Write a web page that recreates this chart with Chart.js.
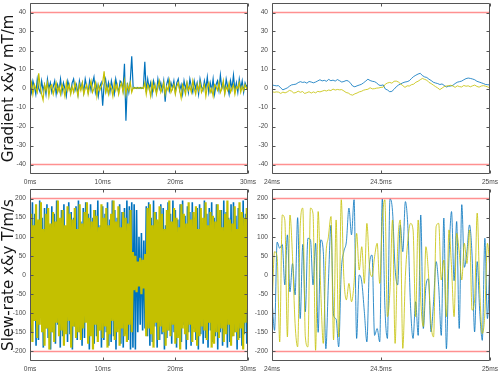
<!DOCTYPE html>
<html>
<head>
<meta charset="utf-8">
<script src="https://cdn.jsdelivr.net/npm/chart.js@4.4.0/dist/chart.umd.min.js"></script>
<style>
  html, body { margin: 0; padding: 0; background: #fff; }
  #wrap { position: relative; width: 499px; height: 373px; overflow: hidden; }
  #wrap canvas { position: absolute; left: 0; top: 0; }
</style>
</head>
<body>
<div id="wrap">
  <canvas id="grad-full" width="499" height="373"></canvas>
  <canvas id="grad-zoom" width="499" height="373"></canvas>
  <canvas id="slew-full" width="499" height="373"></canvas>
  <canvas id="slew-zoom" width="499" height="373"></canvas>
</div>
<script>
// ── Data ──────────────────────────────────────────────────

// gradient, whole readout 0–30 ms (one sample every 0.2 ms)
const gradFullStep = 0.2;
const gradFullBlue = [
  3, -2, 4, 1, -3, 5, 0, -2, 4, -1,
  2, -3, 5, 0, 3, -2, 1, 4, -3, 2,
  -1, 5, -2, 3, 0, -4, 4, 1, -2, 3,
  5, -1, 2, -3, 4, 0, 3, -2, 5, 1,
  -2, 4, -1, 3, 6, -2, 2, -4, 1, 3,
  -9, 2, 5, -1, 3, -2, 4, 0, -3, 5,
  1, -2, 4, 3, -1, 13, -17, 3, -2, 4, 17,
  0, 0.5, 0, 0.5, 0, 0.5, 0, 0.5,
  14,
  -2, 5, 0, 3, -3, 4, 1, -2, 5, 0,
  3, -1, 4, -7, 2, 5, -1, 3, 0, 4,
  -2, 3, 5, -1, 2, -3, 4, 0, 3, -2,
  5, 1, -2, 4, 0, 3, -3, 5, 1, -1,
  4, 0, 6, -2, 3, -1, 5, -3, 2, 4,
  -1, 7, 0, 3, -2, 5, 1, -3, 4, 0,
  7, -1, 3, -2, 5, 0, 4, -2, 3, 1, 2
];
const gradFullYellow = [
  -1, 3, -3, 2, 0, -2, 8, 1, -3, -6,
  2, -1, 3, -4, 1, 2, -3, 0, 3, -2,
  1, -3, 2, 0, -4, 3, -1, 2, -3, 1,
  -2, 3, 0, -4, 2, -1, 3, -3, 0, 2,
  -3, 1, 4, -2, 0, 3, -4, 2, -1, 1,
  3, 9, -2, 1, -3, 2, 0, -4, 3, -1,
  2, -3, 1, 3, -2, 4, -3, 2, -1, 3, -2,
  0.5, 0, 0.5, 0, 0.5, 0, 0.5, 0,
  3,
  -3, 2, 0, -4, 3, -1, 2, -3, 1, 4,
  -2, 0, 3, -3, 1, -1, 4, -2, 0, 2,
  -3, 1, 3, -1, -5, 2, 0, -3, 3, -1,
  1, -2, 4, 0, -3, 2, -1, 3, -2, 0,
  2, -4, 1, 3, -2, 0, -4, 2, 1, -1,
  3, -2, 0, 4, -3, 1, -1, 3, -2, 0,
  2, -3, 1, 0, 3, -2, 1, -1, 2, 0, 1
];

// gradient, close-up 24–25 ms (one sample every 0.01 ms)
const gradZoomStart = 24;
const gradZoomStep = 0.01;
const gradZoomBlue = [
  1.9, 1.6, 1.4, 1.5, 0.3, -0.7, -0.2, 0.3, 1.2, 1.9,
  2.1, 2.3, 3.1, 3.6, 3.2, 3.4, 2.8, 3.7, 3.4, 3.0,
  3.4, 4.0, 4.6, 4.0, 4.3, 3.8, 4.8, 4.1, 4.4, 3.9,
  4.7, 4.1, 3.4, 3.7, 4.2, 4.0, 2.8, 1.3, 0.9, 1.4,
  1.8, 2.2, 3.0, 3.9, 4.9, 4.2, 3.8, 3.6, 3.0, 1.8,
  1.6, 1.9, -0.3, -0.8, -1.7, -1.5, -0.4, 0.9, 1.8, 2.4,
  3.0, 3.4, 3.6, 4.1, 5.3, 6.3, 7.0, 7.6, 8.0, 6.8,
  6.1, 5.8, 4.9, 4.2, 3.3, 2.9, 2.6, 2.1, 2.4, 1.6,
  0.8, 1.2, 1.3, 1.7, 2.6, 3.3, 3.6, 3.9, 4.6, 5.2,
  5.5, 5.3, 5.0, 4.6, 3.8, 3.4, 3.0, 2.6, 2.1, 2.0, 1.9
];
const gradZoomYellow = [
  -1.6, -2.0, -1.8, -1.9, -2.6, -1.9, -2.3, -1.8, -1.0, -1.4,
  -2.4, -2.1, -1.4, -2.0, -1.6, -2.6, -2.2, -1.7, -2.4, -1.8,
  -2.3, -1.5, -1.8, -1.4, -1.0, -1.3, -0.8, -1.1, -0.3, -0.8,
  -0.5, -0.7, -0.6, -1.3, -2.1, -2.4, -3.2, -3.5, -2.8, -2.4,
  -1.8, -1.5, -0.9, -0.6, -0.4, 0.4, -0.2, -0.1, 0.2, 0.3,
  0.6, 0.7, 2.3, 2.9, 3.2, 2.8, 3.8, 3.9, 3.4, 2.4,
  1.5, 0.6, 1.4, 1.3, 2.0, 2.3, 3.3, 3.8, 4.6, 5.3,
  4.8, 4.4, 3.2, 2.6, 1.8, 1.0, 0.3, -0.6, 0.2, 1.0,
  1.3, 1.5, 1.7, 1.3, 0.6, 1.4, 1.0, 0.8, 1.6, 1.2,
  1.4, 0.9, 1.4, 1.8, 1.1, 0.7, 1.3, 1.5, 1.2, 0.8, 0.3
];

// slew rate, whole readout 0–30 ms (one sample every 1/6 ms)
const slewFullStep = 1 / 6;
const slewFullBlue = [
  170, -150, 190, -120, 160, -185, 140, -170, 195, -110, 150, -190, 175, -140, 185, -165, 130, -195, 180, -150,
  160, -180, 195, -130, 145, -190, 170, -160, 185, -145, 120, -175, 190, -155, 165, -195, 150, -135, 180, -170,
  195, -150, 140, -185, 175, -165, 190, -120, 160, -195, 185, -140, 150, -180, 170, -160, 195, -145, 130, -190,
  180, -170, 160, -150, 190, -185, 145, -175, 195, -160, 170, -195, 150, -140, 185, -180, 165, -190, 175, -155,
  195, -170, 180, -195, 190, -190, 185, -195, 170, -150, 100, -130, 110, -145, 90, -140, 180, -160, 190, -185,
  150, -175, 195, -135, 165, -190, 140, -170, 185, -155, 175, -195, 130, -165, 190, -145, 160, -180, 195, -150,
  170, -190, 145, -160, 185, -175, 195, -130, 155, -195, 180, -150, 165, -185, 190, -140, 150, -170, 175, -195,
  185, -155, 130, -180, 195, -165, 160, -190, 175, -145, 190, -175, 150, -160, 185, -195, 140, -150, 170, -185,
  195, -140, 165, -190, 150, -175, 185, -160, 190, -150, 155, -195, 175, -165, 140, -185, 195, -155, 160, -180, 100
];
const slewFullYellow = [
  -140, 160, -175, 130, -120, 185, -165, 145, -130, 190, -150, 120, -185, 160, -140, 175, -195, 135, -150, 165,
  -175, 140, -125, 195, -160, 150, -145, 170, -185, 130, -155, 180, -120, 160, -190, 145, -135, 175, -165, 120,
  -150, 185, -170, 135, -140, 165, -125, 190, -180, 150, -160, 140, -195, 170, -130, 155, -175, 125, -145, 185,
  -165, 150, -135, 175, -190, 130, -155, 160, -120, 195, -170, 140, -150, 180, -185, 125, -140, 165, -160, 150,
  -175, 135, -130, 170, -150, 60, -40, 50, -45, 35, -30, 45, -50, 40, -35, 55, -160, 175, -140, 185,
  -155, 130, -190, 165, -125, 145, -170, 180, -135, 160, -150, 120, -185, 170, -145, 195, -160, 140, -130, 175,
  -180, 150, -165, 125, -195, 185, -140, 160, -155, 135, -170, 190, -130, 145, -175, 165, -150, 180, -185, 120,
  -160, 175, -135, 150, -145, 190, -170, 130, -125, 165, -190, 155, -180, 140, -150, 185, -165, 170, -140, 125,
  -175, 160, -155, 195, -130, 145, -185, 135, -160, 180, -150, 120, -170, 190, -140, 165, -195, 150, -125, 175, -100
];

// slew rate, close-up 24–25 ms (samples spread evenly over the window)
const slewZoomStart = 24;
const slewZoomBlue = [
  -65, -145, 86, 70, 80, -26, 105, -44, 30, -52,
  150, -114, 80, -96, 96, 92, -26, 83, -150, 92,
  61, -193, -18, 130, -105, -115, -188, 9, 61, 87,
  175, 105, 197, -166, 0, -18, -96, -175, 26, 52,
  -158, -140, -175, 199, -79, -166, 199, 166, 17, -26,
  131, 61, 192, 122, -79, -166, -70, -158, 157, -140,
  -30, -10, -149, -70, 35, -30, -158, 149, -193, 44,
  166, -15, 140, -140, 184, 20, 61, 131, 52, -149,
  35, -96, -171, 96, -114, 52
];
const slewZoomYellow = [
  -87, 61, 48, -175, 157, 144, -162, 157, 48, -127,
  -188, 127, 175, -162, -188, 175, 160, -197, 166, -39,
  -179, 48, 100, 153, -170, 144, -162, 197, -4, -65,
  -22, -70, -20, 109, 13, 74, -22, 135, 22, -4,
  48, 83, -22, 144, 197, -109, -39, 144, -179, 74,
  144, -192, -4, 92, 135, 118, -109, 144, -65, -135,
  74, 4, -127, -162, 127, 135, -13, 39, -109, 118,
  20, -109, 109, 60, -13, 83, 30, 118, -92, -65,
  162, -39, -153, -100, 83, 13
];

// axes
const gradTicks = [-40, -30, -20, -10, 0, 10, 20, 30, 40];
const slewTicks = [-200, -150, -100, -50, 0, 50, 100, 150, 200];
const fullTimeTicks = [0, 10, 20, 30];
const zoomTimeTicks = [24, 24.5, 25];
const gradLimits = [40, -40];
const slewLimits = [200, -200];

// ── Style ─────────────────────────────────────────────────

const W = 499, H = 373;
const axisW = 30, axisH = 12;
const colors = {
  blue   : '#0072bd',
  yellow : '#c4c000',
  limit  : 'rgba(255, 70, 70, 0.6)',
  frame  : '#555555',
  tick   : '#4a4a4a',
  title  : '#151515',
};
const tickFont = { family: 'Liberation Sans', size: 6.6 };

// box round the plot with inward ticks, like the original
const framePlugin = {
  id: 'frame',
  afterDatasetsDraw( chart ) {
    const { ctx, chartArea: a, scales: { x, y } } = chart;
    const L = Math.round( a.left ) + 0.5, R = Math.round( a.right ) - 0.5;
    const T = Math.round( a.top ) + 0.5, B = Math.round( a.bottom ) - 0.5;
    const len = 3;
    ctx.save();
    ctx.strokeStyle = colors.frame;
    ctx.lineWidth = 1;
    ctx.beginPath();
    ctx.rect( L, T, R - L, B - T );
    x.ticks.forEach( ( t ) => {
      const px = Math.round( x.getPixelForValue( t.value ) ) + 0.5;
      ctx.moveTo( px, T ); ctx.lineTo( px, T + len );
      ctx.moveTo( px, B ); ctx.lineTo( px, B - len );
    } );
    y.ticks.forEach( ( t ) => {
      const py = Math.round( y.getPixelForValue( t.value ) ) + 0.5;
      ctx.moveTo( L, py ); ctx.lineTo( L + len, py );
      ctx.moveTo( R, py ); ctx.lineTo( R - len, py );
    } );
    ctx.stroke();
    ctx.restore();
  },
};

function toPoints( times, values ) {
  return values.map( ( v, i ) => ( { x: times[ i ], y: v } ) );
}

function panel( id, area, cfg ) {
  const [ xMin, xMax ] = [ cfg.xTicks[ 0 ], cfg.xTicks[ cfg.xTicks.length - 1 ] ];
  const limitSets = cfg.limits.map( ( lim ) => ( {
    data        : [ { x: xMin, y: lim }, { x: xMax, y: lim } ],
    borderColor : colors.limit,
    borderWidth : 1.5,
  } ) );
  const mode = cfg.smooth ? 'monotone' : 'default';

  new Chart( document.getElementById( id ), {
    type: 'line',
    data: {
      datasets: [
        ...limitSets,
        {
          data        : toPoints( cfg.times, cfg.yellow ),
          borderColor : colors.yellow,
          borderWidth : cfg.width[ 0 ],
          cubicInterpolationMode: mode,
        },
        {
          data        : toPoints( cfg.times, cfg.blue ),
          borderColor : colors.blue,
          borderWidth : cfg.width[ 1 ],
          cubicInterpolationMode: mode,
        },
      ],
    },
    options: {
      responsive : false,
      animation  : false,
      events     : [],
      layout: {
        padding: {
          left   : area.left - axisW,
          right  : W - area.right,
          top    : area.top,
          bottom : H - area.bottom - axisH,
        },
      },
      elements: { point: { radius: 0 } },
      plugins: {
        legend  : { display: false },
        tooltip : { enabled: false },
      },
      scales: {
        x: {
          type   : 'linear',
          min    : xMin,
          max    : xMax,
          grid   : { display: false, drawTicks: false },
          border : { display: false },
          ticks: {
            padding     : 4,
            color       : colors.tick,
            font        : tickFont,
            maxRotation : 0,
            autoSkip    : false,
            callback    : ( v ) => v + 'ms',
          },
          afterBuildTicks: ( s ) => { s.ticks = cfg.xTicks.map( ( v ) => ( { value: v } ) ); },
          afterFit: ( s ) => { s.height = axisH; s.paddingLeft = 0; s.paddingRight = 0; },
        },
        y: {
          type   : 'linear',
          min    : cfg.yRange[ 0 ],
          max    : cfg.yRange[ 1 ],
          grid   : { display: false, drawTicks: false },
          border : { display: false },
          ticks: {
            padding  : 4,
            color    : colors.tick,
            font     : tickFont,
            autoSkip : false,
            callback : ( v ) => String( v ),
          },
          title: {
            display : !! cfg.title,
            text    : cfg.title || '',
            color   : colors.title,
            font    : { family: 'DejaVu Sans', size: 15 },
            padding : 0,
          },
          afterBuildTicks: ( s ) => { s.ticks = cfg.yTicks.map( ( v ) => ( { value: v } ) ); },
          afterFit: ( s ) => { s.width = axisW; s.paddingTop = 0; s.paddingBottom = 0; },
        },
      },
    },
    plugins: [ framePlugin ],
  } );
}

// ── Panels ────────────────────────────────────────────────

const gradFullTime = gradFullBlue.map( ( _, i ) => i * gradFullStep );
const gradZoomTime = gradZoomBlue.map( ( _, i ) => gradZoomStart + i * gradZoomStep );
const slewFullTime = slewFullBlue.map( ( _, i ) => i * slewFullStep );
const slewZoomTime = slewZoomBlue.map( ( _, i ) => slewZoomStart + i / ( slewZoomBlue.length - 1 ) );

panel( 'grad-full', { left: 30, top: 3, right: 248, bottom: 174 }, {
  times: gradFullTime, blue: gradFullBlue, yellow: gradFullYellow,
  xTicks: fullTimeTicks, yTicks: gradTicks, yRange: [ -45, 45 ],
  limits: gradLimits, title: 'Gradient x&y mT/m', width: [ 1.2, 1.2 ],
} );
panel( 'grad-zoom', { left: 272, top: 3, right: 490, bottom: 174 }, {
  times: gradZoomTime, blue: gradZoomBlue, yellow: gradZoomYellow,
  xTicks: zoomTimeTicks, yTicks: gradTicks, yRange: [ -45, 45 ],
  limits: gradLimits, width: [ 0.8, 0.8 ],
} );
panel( 'slew-full', { left: 30, top: 189, right: 248, bottom: 361 }, {
  times: slewFullTime, blue: slewFullBlue, yellow: slewFullYellow,
  xTicks: fullTimeTicks, yTicks: slewTicks, yRange: [ -225, 225 ],
  limits: slewLimits, title: 'Slew-rate x&y T/m/s', width: [ 2.2, 1.6 ],
} );
panel( 'slew-zoom', { left: 272, top: 189, right: 490, bottom: 361 }, {
  times: slewZoomTime, blue: slewZoomBlue, yellow: slewZoomYellow,
  xTicks: zoomTimeTicks, yTicks: slewTicks, yRange: [ -225, 225 ],
  limits: slewLimits, smooth: true, width: [ 0.8, 0.8 ],
} );
</script>
</body>
</html>
